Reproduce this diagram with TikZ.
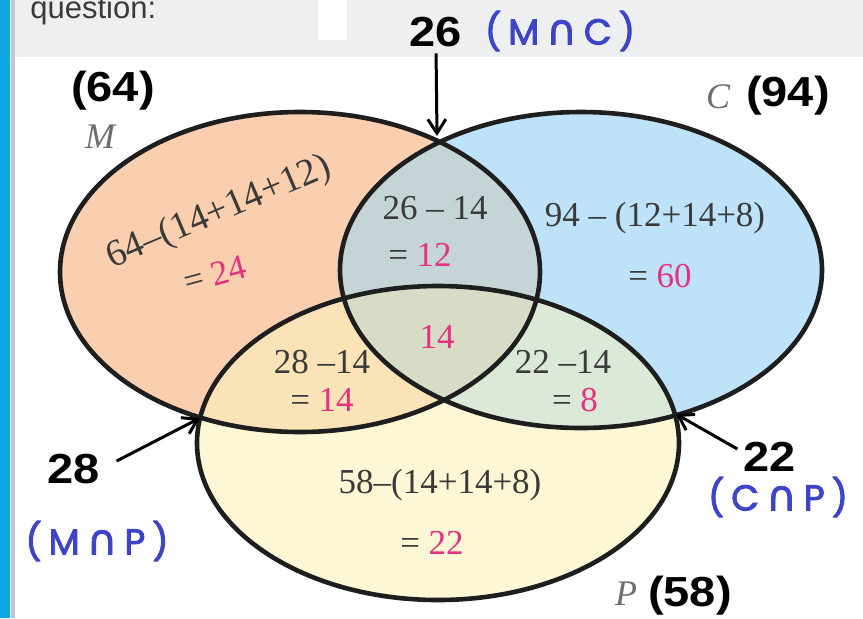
\documentclass[tikz,border=0pt]{standalone}
\usepackage{fontspec}
\setmainfont{Liberation Serif}
\newfontfamily\countfont{Liberation Sans}
\newfontfamily\meetfont[FakeBold=2.5]{Poppins}
\newfontfamily\capfont[FakeBold=2]{DejaVu Sans}
\usepackage{xcolor}
\usepackage{tikz}
\usetikzlibrary{arrows.meta,positioning,calc}
\definecolor{mfill}{HTML}{F9CFAF}
\definecolor{cfill}{HTML}{BEE3F8}
\definecolor{pfill}{HTML}{FDF7D5}
\definecolor{mcfill}{HTML}{C5D5D7}
\definecolor{mpfill}{HTML}{FBE3B8}
\definecolor{cpfill}{HTML}{DDE9D8}
\definecolor{mcpfill}{HTML}{D6DCC6}
\definecolor{vennline}{HTML}{1E1E1E}
\definecolor{calcgray}{HTML}{3A3A3A}
\definecolor{resultpink}{HTML}{E3327F}
\definecolor{namegray}{HTML}{6E6E6E}
\definecolor{meetblue}{HTML}{3E44C8}
\definecolor{topgray}{HTML}{EEEFF1}
\definecolor{framecyan}{HTML}{10A6E0}
\definecolor{framegray}{HTML}{B9C6DE}
\newcommand{\capsym}{{\capfont\fontsize{21}{22}\selectfont ∩}}
\newcommand{\meetlabel}[2]{(\kern3.5pt#1\kern3.5pt\capsym\kern3.5pt#2\kern3.5pt)}
\def\ellM{(300,272) ellipse [x radius=240, y radius=160]}
\def\ellC{(581,270) ellipse [x radius=241, y radius=158]}
\def\ellP{(438,443) ellipse [x radius=241, y radius=157]}

\begin{document}
\begin{tikzpicture}[x=0.5pt,y=-0.5pt,every node/.style={inner sep=0pt},
  setline/.style={line width=2.3pt,draw=vennline},
  calcnum/.style={font=\fontsize{17.5}{19}\selectfont,text=calcgray},
  countlbl/.style={font=\countfont\bfseries\fontsize{21}{23}\selectfont,xscale=1.12},
  setletter/.style={font=\fontsize{18}{20}\selectfont\itshape,text=namegray},
  meet/.style={font=\meetfont\fontsize{18}{20}\selectfont,text=meetblue},
  pointer/.style={-{Straight Barb[length=7pt,width=9pt]},line width=1.5pt}]
  \useasboundingbox (0,0) rectangle (863,618);
  % screenshot frame
  \fill[topgray] (0,0) rectangle (863,618);
  \fill[white] (15,57) rectangle (863,618);
  \fill[white] (318,0) rectangle (347,40);
  \fill[framecyan] (0,0) rectangle (10,618);
  \fill[framegray] (11,0) rectangle (15,618);
  \node[font=\countfont\fontsize{15.5}{17}\selectfont,text=calcgray,anchor=base west] (quest) at (30,18) {question:};

  % sets and overlaps
  \fill[mfill] \ellM;
  \fill[cfill] \ellC;
  \fill[pfill] \ellP;
  \begin{scope}
    \clip \ellM;
    \fill[mcfill] \ellC;
    \fill[mpfill] \ellP;
  \end{scope}
  \begin{scope}
    \clip \ellC;
    \fill[cpfill] \ellP;
  \end{scope}
  \begin{scope}
    \clip \ellM; \clip \ellC;
    \fill[mcpfill] \ellP;
  \end{scope}
  \draw[setline] \ellM;
  \draw[setline] \ellC;
  \draw[setline] \ellP;

  \coordinate (mc) at (437,136);
  \coordinate (mp) at (200,418);
  \coordinate (cp) at (676,414);

  % region working
  \node[calcnum,font=\fontsize{19}{21}\selectfont,rotate=23] (monly) at (219,213) {64–(14+14+12)};
  \node[calcnum,rotate=15] (monlyres) at (215,274) {= {\color{resultpink}24}};
  \node[calcnum] (mconly) at (435,208) {26 – 14};
  \node[calcnum] (mconlyres) at (420,255) {= {\color{resultpink}12}};
  \node[calcnum] (conly) at (655,218) {94 – (12+14+8)};
  \node[calcnum] (conlyres) at (660,276) {= {\color{resultpink}60}};
  \node[calcnum,text=resultpink] (mcp) at (437,337) {14};
  \node[calcnum] (mponly) at (322,362) {28 –14};
  \node[calcnum] (mponlyres) at (322,400) {= {\color{resultpink}14}};
  \node[calcnum] (cponly) at (563,362) {22 –14};
  \node[calcnum] (cponlyres) at (575,400) {= {\color{resultpink}8}};
  \node[calcnum] (ponly) at (440,485) {58–(14+14+8)};
  \node[calcnum] (ponlyres) at (432,543) {= {\color{resultpink}22}};

  % set names and totals
  \node[countlbl] (mtot) at (113,91) {(64)};
  \node[setletter] (mname) at (100,137) {M};
  \node[setletter] (cname) at (718,97) {C};
  \node[countlbl] (ctot) at (788,96) {(94)};
  \node[setletter] (pname) at (626,594) {P};
  \node[countlbl] (ptot) at (690,596) {(58)};

  % intersection counts
  \node[countlbl] (mcnum) at (436,32) {26};
  \node[meet] (mcname) at (560,31) {\meetlabel{M}{C}};
  \node[countlbl] (mpnum) at (74,469) {28};
  \node[meet] (mpname) at (97,541) {\meetlabel{M}{P}};
  \node[countlbl] (cpnum) at (770,457) {22};
  \node[meet] (cpname) at (778,497) {\meetlabel{C}{P}};

  \draw[pointer,shorten <=3pt] (mcnum.south) -- (mc);
  \draw[pointer] ([xshift=8pt,yshift=4pt]mpnum.east) -- (mp);
  \draw[pointer] ([xshift=-3pt,yshift=4pt]cpnum.west) -- (cp);
\end{tikzpicture}
\end{document}
